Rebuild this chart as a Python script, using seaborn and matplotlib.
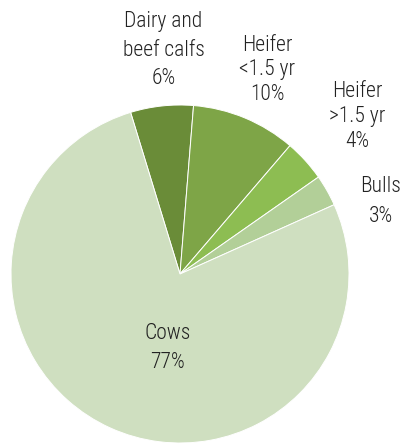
import matplotlib
matplotlib.use("Agg")
import matplotlib.pyplot as plt
import seaborn as sns

sns.set_theme(style="white")
plt.rcParams['font.family'] = ['Roboto Condensed', 'DejaVu Sans']

# ---- data ----
categories = ["Dairy and\nbeef calfs", "Heifer\n<1.5 yr", "Heifer\n>1.5 yr", "Bulls", "Cows"]
shares = [6, 10, 4, 3, 77]
colors = ["#6a8c38", "#7ea547", "#8dbd52", "#b2cf98", "#cfdfc0"]

# ---- label layout (pixel centres, line spacing) ----
label_pos = [(163.5, 50), (267, 70), (357, 116.5), (381, 201.5), (167.5, 348)]
label_ls = [1.45, 1.22, 1.26, 1.5, 1.5]

W, H = 403, 444
fig = plt.figure(figsize=(W / 100, H / 100), dpi=100)
cx, cy, r = 180, 274, 169
ax = fig.add_axes([(cx - r) / W, (H - cy - r) / H, 2 * r / W, 2 * r / H])

ax.pie(shares, colors=colors, startangle=107, counterclock=False,
       wedgeprops=dict(edgecolor="white", linewidth=0.7))
ax.set_xlim(-1, 1)
ax.set_ylim(-1, 1)
ax.set_aspect("equal")
ax.axis("off")

for cat, val, (px, py), ls in zip(categories, shares, label_pos, label_ls):
    fig.text(px / W, 1 - py / H, f"{cat}\n{val}%", ha="center", va="center",
             fontsize=15.5, fontweight=300, color="#222222", linespacing=ls,
             multialignment="center")

fig.savefig("out.png", dpi=100)
